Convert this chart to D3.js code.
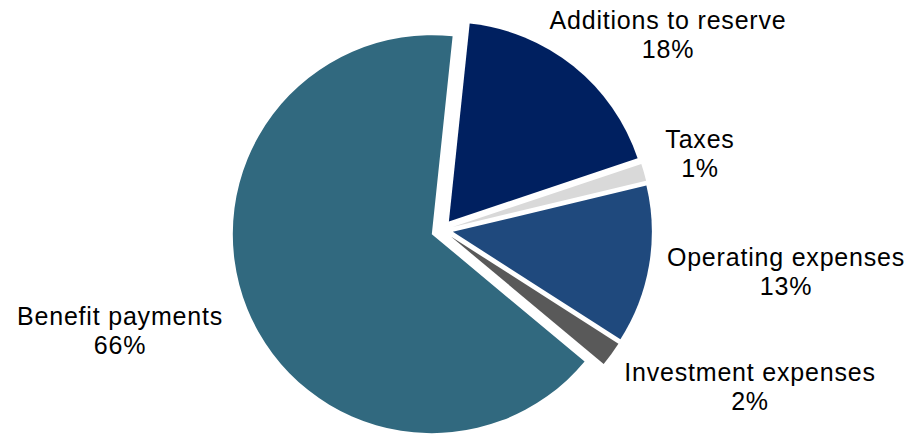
<!DOCTYPE html>
<html>
<head>
<meta charset="utf-8">
<script src="https://cdn.jsdelivr.net/npm/d3@7/dist/d3.min.js"></script>
<style>
body { margin: 0; background: #fff; }
text { font-family: "Liberation Sans", Arial, Helvetica, sans-serif; }
</style>
</head>
<body>
<svg></svg>
<script>
// slices, clockwise from the top
var categories = ["Additions to reserve", "Taxes", "Operating expenses", "Investment expenses", "Benefit payments"];
var values = [18.2, 1.4, 12.8, 2.0, 65.6];
var colors = ["#002060", "#D9D9D9", "#1F497D", "#595959", "#31697F"];

// where each label sits: centre x, first baseline
var labelSpots = [[668, 29], [700, 148], [786, 266], [750, 381], [120, 325]];

var WIDTH = 913, HEIGHT = 434;
var CX = 442, CY = 230, RADIUS = 199, EXPLODE = 11;
var START = 6 * Math.PI / 180;

var svg = d3.select("svg")
    .attr("width", WIDTH)
    .attr("height", HEIGHT);

var total = d3.sum(values);

var rows = categories.map(function(c, i) {
    return { name: c, value: values[i], color: colors[i], spot: labelSpots[i] };
});

var pie = d3.pie()
    .sort(null)
    .value(function(d) { return d.value; })
    .startAngle(START)
    .endAngle(START + 2 * Math.PI);

var arc = d3.arc()
    .innerRadius(0)
    .outerRadius(RADIUS);

var g = svg.append("g")
    .attr("transform", "translate(" + CX + "," + CY + ")");

g.selectAll("path")
    .data(pie(rows))
    .enter().append("path")
    .attr("d", arc)
    .attr("fill", function(d) { return d.data.color; })
    .attr("transform", function(d) {
        var mid = (d.startAngle + d.endAngle) / 2;
        return "translate(" + (Math.sin(mid) * EXPLODE) + "," + (-Math.cos(mid) * EXPLODE) + ")";
    });

var labels = svg.append("g")
    .selectAll("text")
    .data(rows)
    .enter().append("text")
    .attr("text-anchor", "middle")
    .attr("font-size", 25)
    .attr("letter-spacing", 0.8)
    .attr("fill", "#000");

labels.append("tspan")
    .attr("x", function(d) { return d.spot[0]; })
    .attr("y", function(d) { return d.spot[1]; })
    .text(function(d) { return d.name; });

labels.append("tspan")
    .attr("x", function(d) { return d.spot[0]; })
    .attr("y", function(d) { return d.spot[1] + 29; })
    .text(function(d) { return Math.round(d.value / total * 100) + "%"; });
</script>
</body>
</html>
